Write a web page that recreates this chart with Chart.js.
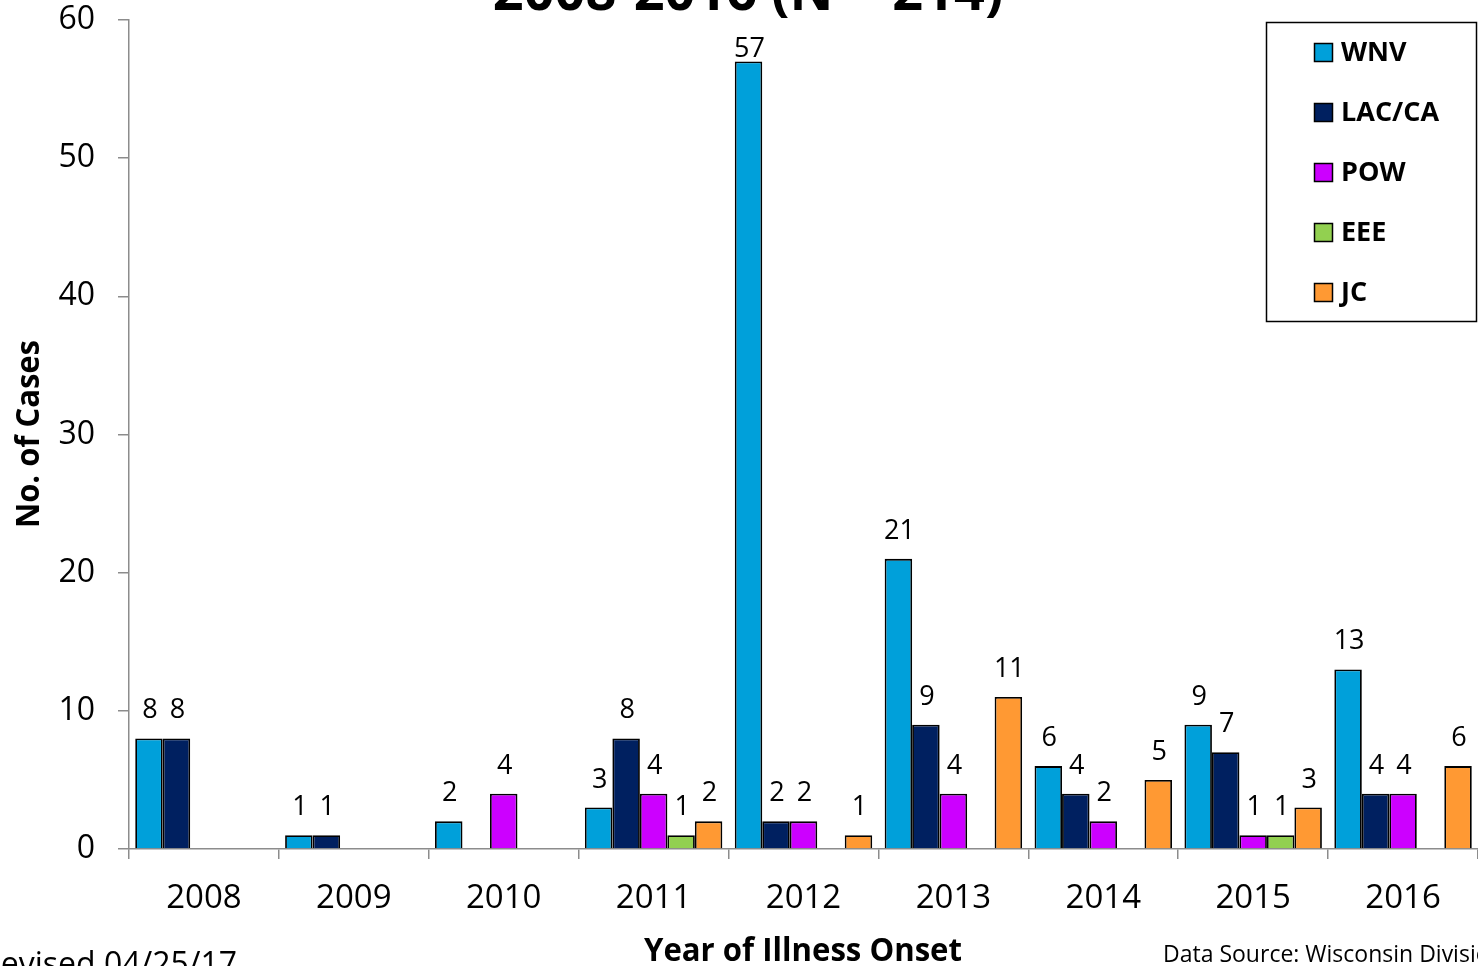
<!DOCTYPE html>
<html>
<head>
<meta charset="utf-8">
<script src="https://cdn.jsdelivr.net/npm/chart.js@4.4.1/dist/chart.umd.min.js"></script>
<style>
  html, body { margin: 0; padding: 0; background: #fff; overflow: hidden; }
  #wrap { position: absolute; left: 0; top: 0; width: 1478px; height: 966px; }
</style>
</head>
<body>
<div id="wrap"><canvas id="c" width="1478" height="966"></canvas></div>
<script>
const years = ['2008', '2009', '2010', '2011', '2012', '2013', '2014', '2015', '2016'];
const wnv   = [8, 1, 2, 3, 57, 21, 6, 9, 13];
const lacca = [8, 1, null, 8, 2, 9, 4, 7, 4];
const pow   = [null, null, 4, 4, 2, 4, 2, 1, 4];
const eee   = [null, null, null, 1, null, null, null, 1, null];
const jc    = [null, null, null, 2, 1, 11, 5, 3, 6];
const seriesNames = ['WNV', 'LAC/CA', 'POW', 'EEE', 'JC'];
const seriesColors = ['#00A0DA', '#002060', '#CC00FF', '#92D050', '#FF9933'];
const yTicks = [0, 10, 20, 30, 40, 50, 60];
const titleText = '2008-2016 (N = 214)';
const xTitle = 'Year of Illness Onset';
const yTitle = 'No. of Cases';
const footLeft = 'Revised 04/25/17';
const footRight = 'Data Source: Wisconsin Division of Public Health';

const FONT = '"Open Sans", "Noto Sans", sans-serif';

const seriesData = [wnv, lacca, pow, eee, jc];
const datasets = seriesData.map((d, i) => ({
  label: seriesNames[i],
  data: d,
  backgroundColor: seriesColors[i],
  borderColor: '#000',
  borderWidth: 1.8,
  borderSkipped: 'bottom',
  categoryPercentage: 0.917,
  barPercentage: 1.0
}));

const decor = {
  id: 'decor',
  afterDatasetsDraw(chart) {
    const ctx = chart.ctx;
    const area = chart.chartArea;
    ctx.save();
    ctx.fillStyle = '#000';
    ctx.font = '27px ' + FONT;
    ctx.textAlign = 'center';
    ctx.textBaseline = 'alphabetic';
    chart.data.datasets.forEach((ds, di) => {
      const meta = chart.getDatasetMeta(di);
      meta.data.forEach((el, i) => {
        const v = ds.data[i];
        if (v === null || v === undefined || v === 0) return;
        const y = Math.max(el.y - 20, area.top + 37);
        ctx.fillText(String(v), el.x + 1, y);
      });
    });
    ctx.restore();
  },
  afterDraw(chart) {
    const ctx = chart.ctx;
    ctx.save();
    ctx.fillStyle = '#000';
    // title (cut at top)
    ctx.font = 'bold 54px ' + FONT;
    ctx.textAlign = 'center';
    ctx.textBaseline = 'alphabetic';
    ctx.fillText(titleText, 748, 10, 515);
    // x title
    ctx.font = 'bold 32px ' + FONT;
    ctx.fillText(xTitle, 803, 961, 318);
    // y title
    ctx.save();
    ctx.translate(39, 434);
    ctx.rotate(-Math.PI / 2);
    ctx.fillText(yTitle, 0, 0, 188);
    ctx.restore();
    // footers
    ctx.font = '32px ' + FONT;
    ctx.textAlign = 'left';
    ctx.fillText(footLeft, -19, 975, 266);
    ctx.font = '23px ' + FONT;
    ctx.fillText(footRight, 1163, 962);
    // legend
    ctx.lineWidth = 1.5;
    ctx.strokeStyle = '#000';
    ctx.fillStyle = '#fff';
    ctx.fillRect(1266, 22, 211, 300);
    ctx.strokeRect(1266.5, 22.5, 210, 299);
    ctx.font = 'bold 27px ' + FONT;
    ctx.textBaseline = 'middle';
    seriesNames.forEach((n, i) => {
      const cy = 52 + i * 60;
      ctx.fillStyle = seriesColors[i];
      ctx.fillRect(1314, cy - 9, 19, 19);
      ctx.lineWidth = 1.5;
      ctx.strokeRect(1314.5, cy - 8.5, 18, 18);
      ctx.fillStyle = '#000';
      ctx.fillText(n, 1341, cy + 1, 100);
    });
    ctx.restore();
  }
};

new Chart(document.getElementById('c'), {
  type: 'bar',
  data: { labels: years, datasets: datasets },
  options: {
    responsive: false,
    animation: false,
    layout: { padding: { left: 0, top: 20, right: 0, bottom: 0 } },
    plugins: {
      legend: { display: false },
      tooltip: { enabled: false },
      title: { display: false }
    },
    scales: {
      x: {
        offset: true,
        grid: {
          display: true,
          offset: true,
          drawOnChartArea: false,
          drawTicks: true,
          tickLength: 10,
          color: '#8c8c8c',
          lineWidth: 1.5
        },
        border: { display: true, color: '#8c8c8c', width: 1.5 },
        ticks: {
          color: '#000',
          font: { family: FONT, size: 33 },
          padding: 20,
          maxRotation: 0,
          autoSkip: false
        },
        afterFit(scale) {
          scale.height = 117;
          scale.paddingLeft = 0;
          scale.paddingRight = 0;
        }
      },
      y: {
        min: 0,
        max: 60,
        afterBuildTicks(scale) {
          scale.ticks = yTicks.map(v => ({ value: v }));
        },
        grid: {
          display: true,
          drawOnChartArea: false,
          drawTicks: true,
          tickLength: 11,
          color: '#8c8c8c',
          lineWidth: 1.5
        },
        border: { display: true, color: '#8c8c8c', width: 1.5 },
        ticks: {
          color: '#000',
          font: { family: FONT, size: 32 },
          padding: 23
        },
        afterFit(scale) {
          scale.width = 129;
          scale.paddingTop = 0;
          scale.paddingBottom = 0;
        }
      }
    }
  },
  plugins: [decor]
});
</script>
</body>
</html>
